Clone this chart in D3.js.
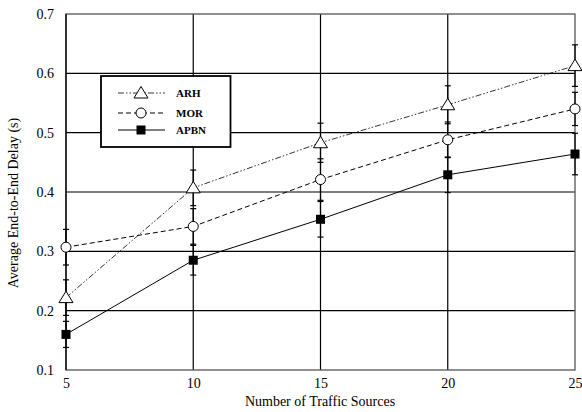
<!DOCTYPE html>
<html><head><meta charset="utf-8">
<script src="https://cdn.jsdelivr.net/npm/d3@7"></script>
<style>body{margin:0;background:#fff}svg{display:block}</style>
</head><body><svg id="c" width="582" height="412"></svg>
<script>
const sources = [5, 10, 15, 20, 25];
const arh  = [0.222, 0.407, 0.483, 0.547, 0.613];
const mor  = [0.307, 0.342, 0.421, 0.488, 0.540];
const apbn = [0.160, 0.285, 0.354, 0.429, 0.464];
const arhErr  = [0.030, 0.030, 0.033, 0.032, 0.035];
const morErr  = [0.030, 0.030, 0.035, 0.030, 0.028];
const apbnErr = [0.022, 0.025, 0.030, 0.030, 0.035];
const yTicks = [0.1, 0.2, 0.3, 0.4, 0.5, 0.6, 0.7];
const seriesNames = ["ARH", "MOR", "APBN"];

const svg = d3.select("#c");
const L = 66, R = 575, T = 14, B = 370;
const x = d3.scaleLinear().domain([5, 25]).range([L, R]);
const y = d3.scaleLinear().domain([0.1, 0.7]).range([B, T]);
const font = "'Liberation Serif','Times New Roman',serif";

// grid
svg.append("g").selectAll("line").data(yTicks.slice(1, -1)).join("line")
  .attr("x1", L).attr("x2", R).attr("y1", d => y(d)).attr("y2", d => y(d))
  .attr("stroke", "#000").attr("stroke-width", 1.2);
svg.append("g").selectAll("line").data(sources.slice(1, -1)).join("line")
  .attr("y1", T).attr("y2", B).attr("x1", d => x(d)).attr("x2", d => x(d))
  .attr("stroke", "#000").attr("stroke-width", 1.2);

// frame
svg.append("rect").attr("x", L).attr("y", T).attr("width", R - L).attr("height", B - T)
  .attr("fill", "none").attr("stroke", "#555").attr("stroke-width", 1.3);
svg.append("line").attr("x1", L).attr("x2", L).attr("y1", T).attr("y2", B)
  .attr("stroke", "#000").attr("stroke-width", 1.3);

// axes
const yAxis = svg.append("g").attr("transform", `translate(${L},0)`)
  .call(d3.axisLeft(y).tickValues(yTicks).tickSize(0).tickPadding(12).tickFormat(d3.format(".1f")));
yAxis.select(".domain").remove();
yAxis.selectAll("text").attr("font-family", font).attr("font-size", 14).attr("fill", "#000");
const xAxis = svg.append("g").attr("transform", `translate(0,${B})`)
  .call(d3.axisBottom(x).tickValues(sources).tickSize(0).tickPadding(8).tickFormat(d3.format("d")));
xAxis.select(".domain").remove();
xAxis.selectAll("text").attr("font-family", font).attr("font-size", 14).attr("fill", "#000");

svg.append("text").attr("x", 320).attr("y", 406).attr("text-anchor", "middle")
  .attr("font-family", font).attr("font-size", 14).text("Number of Traffic Sources");
svg.append("text").attr("transform", "translate(18,203) rotate(-90)").attr("text-anchor", "middle")
  .attr("font-family", font).attr("font-size", 14).text("Average End-to-End Delay (s)");

const series = [
  {name: seriesNames[0], vals: arh, err: arhErr, dash: "6,2,1.5,2,1.5,2", sym: "tri", sw: 0.8},
  {name: seriesNames[1], vals: mor, err: morErr, dash: "5,3", sym: "circ", sw: 1},
  {name: seriesNames[2], vals: apbn, err: apbnErr, dash: null, sym: "sq", sw: 1}
];

function marker(g, s, cx, cy) {
  if (s.sym === "tri") {
    g.append("path").attr("transform", `translate(${cx},${cy})`)
      .attr("d", "M0,-6.5L7,5L-7,5Z").attr("fill", "#fff").attr("stroke", "#000").attr("stroke-width", 1);
  } else if (s.sym === "circ") {
    g.append("circle").attr("cx", cx).attr("cy", cy).attr("r", 5)
      .attr("fill", "#fff").attr("stroke", "#000").attr("stroke-width", 1);
  } else {
    g.append("rect").attr("x", cx - 4.5).attr("y", cy - 4.5).attr("width", 9).attr("height", 9).attr("fill", "#000");
  }
}

// error bars
series.forEach(s => {
  const g = svg.append("g").attr("stroke", "#000").attr("stroke-width", 1.2);
  sources.forEach((v, i) => {
    const lo = y(s.vals[i] - s.err[i]), hi = y(s.vals[i] + s.err[i]);
    g.append("line").attr("x1", x(v)).attr("x2", x(v)).attr("y1", lo).attr("y2", hi);
    g.append("line").attr("x1", x(v) - 3).attr("x2", x(v) + 3).attr("y1", lo).attr("y2", lo);
    g.append("line").attr("x1", x(v) - 3).attr("x2", x(v) + 3).attr("y1", hi).attr("y2", hi);
  });
});

// lines + markers
series.forEach(s => {
  const line = d3.line().x((d, i) => x(sources[i])).y(d => y(d));
  svg.append("path").datum(s.vals).attr("d", line).attr("fill", "none")
    .attr("stroke", "#000").attr("stroke-width", s.sw).attr("stroke-dasharray", s.dash);
});
series.forEach(s => {
  const g = svg.append("g");
  sources.forEach((v, i) => marker(g, s, x(v), y(s.vals[i])));
});

// legend
const lg = svg.append("g");
lg.append("rect").attr("x", 101).attr("y", 76).attr("width", 129.5).attr("height", 71)
  .attr("fill", "#fff").attr("stroke", "#000").attr("stroke-width", 1.8);
series.forEach((s, i) => {
  const yy = [93, 113, 130][i];
  lg.append("line").attr("x1", 118).attr("x2", 165).attr("y1", yy).attr("y2", yy)
    .attr("stroke", "#000").attr("stroke-width", s.sw).attr("stroke-dasharray", s.dash);
  marker(lg, s, 141, yy);
  lg.append("text").attr("x", 176).attr("y", yy + 4).attr("font-family", font)
    .attr("font-size", 11).attr("font-weight", "bold").text(s.name);
});
</script></body></html>
